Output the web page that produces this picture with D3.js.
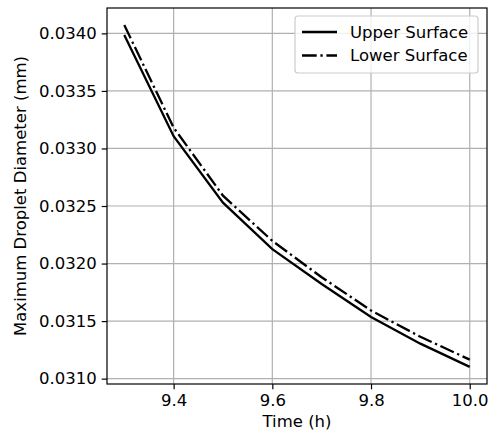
<!DOCTYPE html>
<html>
<head>
<meta charset="utf-8">
<script src="https://cdn.jsdelivr.net/npm/d3@7"></script>
<style>
  body { margin: 0; background: #fff; }
  text { font-family: "DejaVu Sans", sans-serif; fill: #000; }
</style>
</head>
<body>
<script>
// data
var times = [9.3, 9.4, 9.5, 9.6, 9.7, 9.8, 9.9, 10.0];
var upperSurface = [0.033985, 0.033106, 0.032529, 0.032125, 0.031823, 0.031535, 0.031304, 0.031102];
var lowerSurface = [0.034072, 0.033181, 0.032590, 0.032197, 0.031881, 0.031592, 0.031364, 0.031165];
var xTicks = [9.4, 9.6, 9.8, 10.0];
var yTicks = [0.0310, 0.0315, 0.0320, 0.0325, 0.0330, 0.0335, 0.0340];
var seriesNames = ["Upper Surface", "Lower Surface"];

var width = 493, height = 438;
var margin = {top: 8, right: 6, bottom: 54, left: 107};
var fs = 16.5;

var svg = d3.select("body").append("svg")
    .attr("width", width)
    .attr("height", height);

// matplotlib style 5% margins
var xExt = d3.extent(times), xPad = (xExt[1] - xExt[0]) * 0.05;
var allY = upperSurface.concat(lowerSurface);
var yExt = d3.extent(allY), yPad = (yExt[1] - yExt[0]) * 0.05;

var x = d3.scaleLinear()
    .domain([xExt[0] - xPad, xExt[1] + xPad])
    .range([margin.left, width - margin.right]);
var y = d3.scaleLinear()
    .domain([yExt[0] - yPad, yExt[1] + yPad])
    .range([height - margin.bottom, margin.top]);

var plotW = width - margin.right - margin.left,
    plotH = height - margin.bottom - margin.top;

//grid lines
svg.append("g")
    .selectAll("line.vgrid")
    .data(xTicks)
    .enter().append("line")
    .attr("x1", function(d){ return x(d); })
    .attr("x2", function(d){ return x(d); })
    .attr("y1", margin.top)
    .attr("y2", height - margin.bottom)
    .attr("stroke", "#b0b0b0")
    .attr("stroke-width", 1.2);
svg.append("g")
    .selectAll("line.hgrid")
    .data(yTicks)
    .enter().append("line")
    .attr("y1", function(d){ return y(d); })
    .attr("y2", function(d){ return y(d); })
    .attr("x1", margin.left)
    .attr("x2", width - margin.right)
    .attr("stroke", "#b0b0b0")
    .attr("stroke-width", 1.2);

//series lines
var line = d3.line()
    .x(function(d){ return x(d[0]); })
    .y(function(d){ return y(d[1]); });

var dashes = [null, "14.7,3.7,2.3,3.7"];
[upperSurface, lowerSurface].forEach(function(vals, i){
    svg.append("path")
        .datum(d3.zip(times, vals))
        .attr("d", line)
        .attr("fill", "none")
        .attr("stroke", "#000")
        .attr("stroke-width", 2.3)
        .attr("stroke-dasharray", dashes[i]);
});

//axes
var xAxis = svg.append("g")
    .attr("transform", "translate(0," + (height - margin.bottom) + ")")
    .call(d3.axisBottom(x).tickValues(xTicks).tickFormat(d3.format(".1f")).tickSize(5.3).tickPadding(5));
var yAxis = svg.append("g")
    .attr("transform", "translate(" + margin.left + ",0)")
    .call(d3.axisLeft(y).tickValues(yTicks).tickFormat(d3.format(".4f")).tickSize(5.3).tickPadding(5));

[xAxis, yAxis].forEach(function(g){
    g.select(".domain").remove();
    g.selectAll("line").attr("stroke", "#000").attr("stroke-width", 1.2);
    g.selectAll("text").attr("font-size", fs).attr("font-family", "DejaVu Sans");
});

//frame
svg.append("rect")
    .attr("x", margin.left)
    .attr("y", margin.top)
    .attr("width", plotW)
    .attr("height", plotH)
    .attr("fill", "none")
    .attr("stroke", "#000")
    .attr("stroke-width", 1.2);

//axis titles
svg.append("text")
    .attr("x", margin.left + plotW / 2)
    .attr("y", 427)
    .attr("text-anchor", "middle")
    .attr("font-size", fs)
    .text("Time (h)");
svg.append("text")
    .attr("transform", "translate(26," + (margin.top + plotH / 2) + ") rotate(-90)")
    .attr("text-anchor", "middle")
    .attr("font-size", fs)
    .text("Maximum Droplet Diameter (mm)");

//legend
var legend = svg.append("g");
legend.append("rect")
    .attr("x", 295)
    .attr("y", 16)
    .attr("width", 183)
    .attr("height", 57)
    .attr("rx", 3)
    .attr("fill", "#fff")
    .attr("fill-opacity", 0.8)
    .attr("stroke", "#cccccc")
    .attr("stroke-width", 1.2);
seriesNames.forEach(function(name, i){
    var ly = 32 + i * 23.5;
    legend.append("line")
        .attr("x1", 302).attr("x2", 337)
        .attr("y1", ly).attr("y2", ly)
        .attr("stroke", "#000")
        .attr("stroke-width", 2.3)
        .attr("stroke-dasharray", dashes[i]);
    legend.append("text")
        .attr("x", 350)
        .attr("y", ly)
        .attr("dy", "0.35em")
        .attr("font-size", fs)
        .text(name);
});
</script>
</body>
</html>
